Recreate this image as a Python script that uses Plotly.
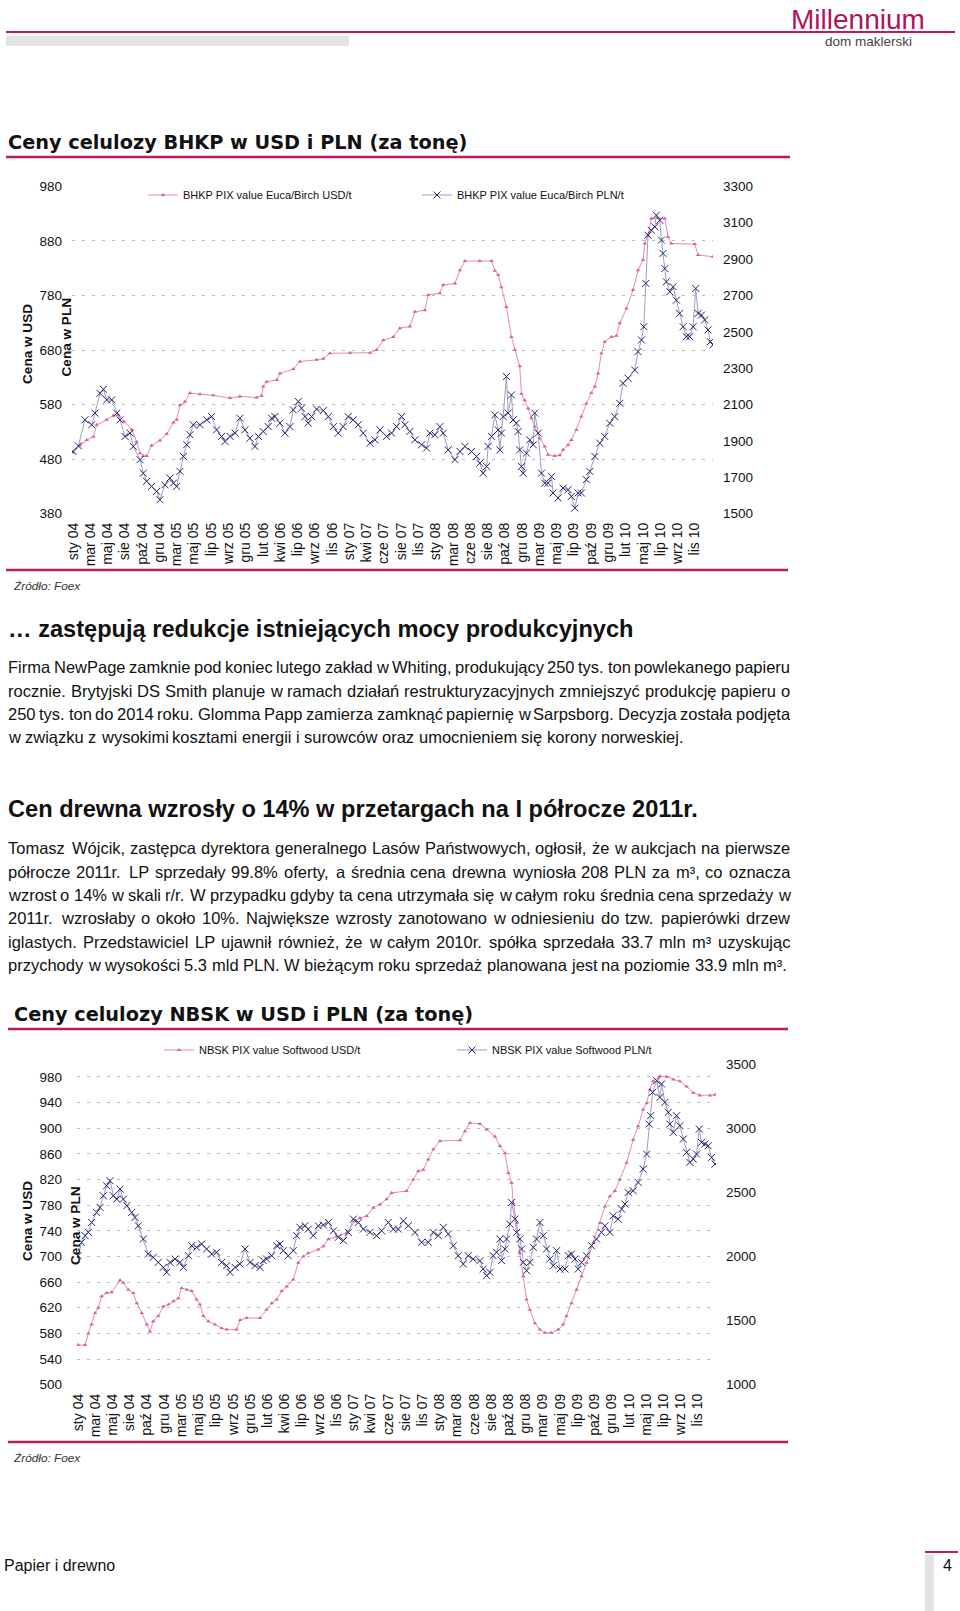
import plotly.graph_objects as go

W, H = 960, 1611

# ---------------- data ----------------
TICK_LABELS = ["sty 04", "mar 04", "maj 04", "sie 04", "paź 04", "gru 04", "mar 05", "maj 05",
               "lip 05", "wrz 05", "gru 05", "lut 06", "kwi 06", "lip 06", "wrz 06", "lis 06",
               "sty 07", "kwi 07", "cze 07", "sie 07", "lis 07", "sty 08", "mar 08", "cze 08",
               "sie 08", "paź 08", "gru 08", "mar 09", "maj 09", "lip 09", "paź 09", "gru 09",
               "lut 10", "maj 10", "lip 10", "wrz 10", "lis 10"]
TICK_WEEKS = list(range(0, 10 * len(TICK_LABELS), 10))

# BHKP USD/t (week index, value)
bhkp_usd_week = [0, 4.1, 7.9, 11.8, 13.7, 19.5, 23.3, 26.2, 29.5, 34.0,
                 36.8, 38.8, 40.7, 42.6, 45.5, 50.3, 54.2, 58.1, 60.0, 61.9,
                 64.8, 67.7, 73.5, 81.2, 90.9, 96.6, 106.3, 109.2, 110.1, 112.1,
                 117.9, 119.8, 127.5, 131.4, 141.0, 144.9, 148.7, 160.3, 171.9, 175.7,
                 179.6, 185.4, 189.2, 195.0, 197.9, 203.7, 205.6, 212.4, 214.3, 221.1,
                 224.0, 226.9, 235.5, 242.3, 244.2, 246.1, 248.0, 250.9, 253.8, 255.8,
                 258.6, 259.6, 261.5, 263.5, 265.4, 267.3, 270.2, 273.1, 275.0, 278.9,
                 281.8, 283.7, 286.6, 288.5, 291.4, 294.3, 297.2, 300.1, 302.1, 304.0,
                 305.9, 307.8, 311.7, 314.6, 316.5, 320.4, 324.2, 327.1, 330.0, 331.0,
                 332.9, 334.8, 342.6, 344.5, 346.4, 359.9, 361.9, 370.5]
bhkp_usd = [492, 505, 515, 521, 543, 552, 560, 561, 549, 534,
            512, 491, 486, 486, 505, 514, 526, 547, 552, 579,
            585, 601, 599, 597, 592, 595, 593, 596, 613, 622,
            625, 637, 645, 659, 662, 664, 674, 675, 675, 680,
            698, 704, 720, 723, 750, 753, 781, 784, 799, 802,
            826, 843, 843, 843, 825, 818, 795, 759, 704, 680,
            650, 600, 588, 573, 555, 540, 518, 503, 488, 486,
            487, 497, 506, 515, 534, 558, 582, 601, 613, 637,
            674, 695, 704, 706, 729, 756, 790, 826, 845, 875,
            890, 921, 921, 887, 875, 874, 854, 851]

# BHKP PLN/t
bhkp_pln_week = [0, 3.1, 6.9, 10.8, 12.7, 15.6, 17.6, 19.5, 22.4, 25.3,
                 27.2, 30.1, 33.0, 34.9, 38.8, 40.7, 42.6, 45.5, 48.4, 50.3,
                 53.2, 56.1, 58.1, 60.0, 61.9, 63.9, 65.8, 67.7, 69.6, 73.5,
                 77.4, 80.2, 83.1, 86.0, 88.0, 90.9, 93.8, 96.6, 99.5, 102.4,
                 105.3, 107.3, 110.1, 113.0, 115.0, 116.9, 119.8, 122.7, 125.6, 127.5,
                 130.4, 132.3, 134.3, 136.2, 138.1, 141.0, 144.9, 147.8, 150.7, 153.5,
                 156.4, 159.3, 162.2, 165.1, 168.0, 171.9, 174.8, 177.7, 181.5, 184.4,
                 187.3, 190.2, 192.1, 195.0, 197.9, 201.8, 204.7, 206.6, 209.5, 212.4,
                 214.3, 217.2, 221.1, 224.0, 226.9, 230.7, 233.6, 235.5, 237.4, 239.4,
                 240.3, 242.3, 244.2, 246.1, 247.1, 248.0, 249.0, 250.9, 251.9, 253.8,
                 254.8, 256.7, 257.7, 258.6, 259.6, 260.6, 262.5, 264.4, 266.4, 267.3,
                 269.3, 271.2, 273.1, 275.0, 277.0, 277.9, 280.8, 283.7, 286.6, 288.5,
                 290.5, 292.4, 294.3, 297.2, 299.2, 302.1, 304.9, 307.8, 310.7, 313.6,
                 316.5, 318.4, 321.3, 325.2, 327.1, 329.1, 330.4, 331.6, 332.9, 334.8,
                 336.8, 337.7, 339.7, 340.6, 341.6, 342.6, 343.5, 345.5, 347.4, 349.3,
                 351.2, 353.2, 355.1, 357.0, 359.0, 360.5, 361.9, 363.8, 365.7, 367.6,
                 369.0, 370.5]
bhkp_pln = [1842, 1873, 2016, 1989, 2053, 2162, 2184, 2126, 2126, 2053,
            2016, 1925, 1943, 1870, 1797, 1723, 1678, 1650, 1623, 1577,
            1659, 1696, 1668, 1650, 1733, 1815, 1879, 1934, 1989, 1989,
            2016, 2034, 1961, 1925, 1897, 1925, 1943, 2025, 1961, 1915,
            1870, 1925, 1952, 1979, 2025, 2034, 1998, 1943, 1979, 2071,
            2117, 2080, 2034, 1998, 2034, 2075, 2067, 2034, 1979, 1943,
            1979, 2034, 2016, 1989, 1943, 1888, 1906, 1961, 1925, 1943,
            1979, 2034, 1989, 1952, 1906, 1879, 1861, 1943, 1934, 1979,
            1943, 1851, 1797, 1842, 1870, 1842, 1815, 1778, 1723, 1760,
            1870, 1925, 2043, 1961, 1851, 1943, 2034, 2254, 2053, 2153,
            2016, 1998, 1952, 1851, 1760, 1723, 1833, 1906, 1879, 2053,
            1943, 1723, 1668, 1668, 1705, 1614, 1586, 1641, 1632, 1595,
            1531, 1614, 1614, 1687, 1733, 1815, 1888, 1925, 1998, 2034,
            2107, 2217, 2245, 2290, 2391, 2455, 2528, 2766, 3031, 3059,
            3077, 3141, 3113, 3004, 2931, 2848, 2775, 2720, 2748, 2674,
            2601, 2528, 2473, 2473, 2528, 2738, 2601, 2592, 2565, 2510,
            2446, 2428]

# NBSK USD/t
nbsk_usd_week = [0, 4.1, 6.0, 7.9, 9.9, 11.8, 13.7, 16.6, 19.5, 24.4,
                 26.3, 29.2, 32.1, 34.1, 37.0, 39.9, 41.8, 43.7, 46.6, 49.5,
                 52.5, 55.4, 58.3, 60.2, 63.1, 66.0, 68.9, 70.8, 72.8, 75.7,
                 79.5, 83.4, 86.3, 92.1, 94.1, 97.9, 105.7, 109.5, 112.5, 115.4,
                 118.3, 121.2, 125.0, 127.9, 130.8, 133.7, 139.5, 142.5, 145.4, 150.2,
                 156.0, 160.8, 163.7, 167.6, 171.5, 175.4, 179.2, 182.1, 190.8, 194.7,
                 197.6, 200.5, 203.4, 206.3, 210.2, 221.8, 224.7, 227.6, 233.4, 237.3,
                 242.1, 245.0, 247.9, 249.9, 251.8, 252.8, 254.7, 256.6, 258.6, 260.5,
                 262.4, 265.3, 268.2, 271.1, 275.0, 278.9, 281.8, 283.7, 286.6, 289.5,
                 292.4, 295.3, 299.2, 303.1, 306.0, 308.9, 311.8, 314.7, 318.6, 322.4,
                 325.3, 328.2, 330.2, 332.1, 334.0, 337.9, 341.8, 345.7, 349.5, 353.4,
                 357.3, 361.1, 367.0, 369.9]
nbsk_usd = [562, 562, 580, 594, 612, 620, 638, 643, 644, 663,
            659, 648, 643, 627, 612, 594, 583, 599, 607, 622,
            625, 630, 635, 651, 648, 646, 633, 625, 607, 599,
            594, 588, 586, 586, 601, 604, 604, 617, 627, 633,
            646, 653, 664, 690, 700, 705, 711, 716, 727, 731,
            737, 755, 760, 763, 776, 781, 789, 799, 802, 820,
            833, 835, 851, 867, 880, 881, 895, 908, 907, 898,
            887, 872, 861, 830, 815, 783, 752, 705, 669, 633,
            617, 596, 586, 581, 581, 586, 594, 607, 627, 648,
            669, 690, 721, 752, 778, 794, 802, 820, 846, 882,
            903, 929, 939, 960, 973, 981, 980, 976, 973, 965,
            955, 951, 951, 952]

# NBSK PLN/t
nbsk_pln_week = [0, 2.1, 4.1, 6.0, 7.9, 10.8, 12.8, 14.7, 16.6, 18.6,
                 20.5, 22.5, 24.4, 26.3, 28.3, 31.2, 33.1, 35.0, 37.9, 40.8,
                 43.7, 46.6, 49.5, 51.5, 53.4, 56.3, 59.2, 61.2, 64.1, 66.0,
                 68.9, 71.8, 74.7, 77.6, 80.5, 83.4, 86.3, 88.3, 91.2, 94.1,
                 97.0, 99.9, 102.8, 105.7, 107.6, 109.5, 112.5, 115.4, 117.3, 119.2,
                 122.1, 125.0, 127.0, 128.9, 131.8, 133.7, 136.6, 139.5, 142.5, 145.4,
                 148.3, 151.2, 154.1, 157.0, 159.9, 162.8, 165.7, 169.5, 173.4, 176.3,
                 180.2, 183.1, 186.0, 188.9, 191.8, 195.7, 199.5, 203.4, 206.3, 209.2,
                 212.1, 215.0, 217.9, 220.8, 223.7, 226.6, 229.5, 233.4, 235.3, 237.3,
                 239.2, 241.1, 243.1, 245.0, 246.0, 247.9, 248.9, 250.8, 251.8, 253.7,
                 254.7, 256.6, 257.6, 258.6, 260.5, 262.4, 264.4, 266.3, 268.2, 270.2,
                 272.1, 274.0, 276.0, 277.9, 279.9, 282.8, 284.7, 286.6, 288.6, 290.5,
                 292.4, 295.3, 298.2, 301.1, 304.0, 306.0, 308.9, 310.8, 313.7, 315.7,
                 317.6, 319.5, 322.4, 325.3, 328.2, 330.2, 331.7, 332.5, 333.7, 336.0,
                 337.9, 338.9, 340.8, 342.8, 343.7, 345.7, 347.6, 349.5, 351.5, 353.4,
                 355.3, 357.3, 359.2, 360.8, 362.1, 364.0, 366.0, 367.9, 369.9]
nbsk_pln = [2006, 2110, 2162, 2188, 2265, 2343, 2382, 2473, 2551, 2590,
            2473, 2447, 2525, 2447, 2395, 2343, 2304, 2239, 2136, 2019,
            1993, 1954, 1915, 1876, 1954, 1980, 1954, 1915, 2006, 2084,
            2071, 2097, 2058, 2019, 2032, 1954, 1928, 1876, 1915, 1941,
            2058, 1954, 1928, 1915, 1967, 1980, 2006, 2084, 2097, 2045,
            2006, 2045, 2162, 2227, 2239, 2213, 2162, 2239, 2245, 2265,
            2200, 2149, 2123, 2188, 2291, 2265, 2213, 2188, 2162, 2200,
            2265, 2213, 2213, 2278, 2239, 2188, 2110, 2110, 2188, 2162,
            2227, 2175, 2084, 2006, 1941, 2006, 1980, 1967, 1902, 1850,
            1876, 2006, 2032, 2136, 1967, 2058, 2136, 2252, 2421, 2291,
            2188, 2136, 2058, 1954, 1889, 1954, 2071, 2136, 2265, 2162,
            2058, 1980, 1928, 2045, 1902, 1902, 2006, 2019, 1980, 1902,
            1954, 2006, 2084, 2136, 2188, 2239, 2188, 2317, 2291, 2369,
            2408, 2499, 2512, 2577, 2681, 2798, 3032, 3097, 3279, 3370,
            3240, 3344, 3201, 3123, 3032, 2967, 3097, 3019, 2915, 2811,
            2733, 2759, 2798, 2993, 2889, 2876, 2863, 2772, 2720]

PARA1 = ["Firma NewPage zamknie pod koniec lutego zakład w Whiting, produkujący 250 tys. ton powlekanego papieru",
         "rocznie. Brytyjski DS Smith planuje w ramach działań restrukturyzacyjnych zmniejszyć produkcję papieru o",
         "250 tys. ton do 2014 roku. Glomma Papp zamierza zamknąć papiernię w Sarpsborg. Decyzja została podjęta",
         "w związku z wysokimi kosztami energii i surowców oraz umocnieniem się korony norweskiej."]
PARA2 = ["Tomasz Wójcik, zastępca dyrektora generalnego Lasów Państwowych, ogłosił, że w aukcjach na pierwsze",
         "półrocze 2011r. LP sprzedały 99.8% oferty, a średnia cena drewna wyniosła 208 PLN za m³, co oznacza",
         "wzrost o 14% w skali r/r. W przypadku gdyby ta cena utrzymała się w całym roku średnia cena sprzedaży w",
         "2011r. wzrosłaby o około 10%. Największe wzrosty zanotowano w odniesieniu do tzw. papierówki drzew",
         "iglastych. Przedstawiciel LP ujawnił również, że w całym 2010r. spółka sprzedała 33.7 mln m³ uzyskując",
         "przychody w wysokości 5.3 mld PLN. W bieżącym roku sprzedaż planowana jest na poziomie 33.9 mln m³."]

# ---------------- styles ----------------
SANS = "Liberation Sans, Arial, sans-serif"
TITLE_FONT = "DejaVu Sans, Verdana, sans-serif"
TXT = "#111111"
MAGENTA = "#bf1a5e"
PINK_LINE = "#e58ab8"
PINK_MARK = "#dc5fa0"
BLUE_LINE = "#9c9ebd"
BLUE_MARK = "#25256f"
GRID = "#bdbdbd"


def px(x):
    return x / W


def py(y):
    return 1 - y / H


fig = go.Figure()


def n(a, b):
    m = min(len(a), len(b))
    return a[:m], b[:m]


x, y = n(bhkp_usd_week, bhkp_usd)
fig.add_trace(go.Scatter(x=x, y=y, name="BHKP PIX value Euca/Birch USD/t", mode="lines+markers",
                         line=dict(color=PINK_LINE, width=1),
                         marker=dict(symbol="triangle-up", size=4, color=PINK_MARK),
                         xaxis="x", yaxis="y", legend="legend"))
x, y = n(bhkp_pln_week, bhkp_pln)
fig.add_trace(go.Scatter(x=x, y=y, name="BHKP PIX value Euca/Birch PLN/t", mode="lines+markers",
                         line=dict(color=BLUE_LINE, width=1),
                         marker=dict(symbol="x-thin", size=7, color=BLUE_MARK,
                                     line=dict(color=BLUE_MARK, width=1)),
                         xaxis="x", yaxis="y2", legend="legend2"))
x, y = n(nbsk_usd_week, nbsk_usd)
fig.add_trace(go.Scatter(x=x, y=y, name="NBSK PIX value Softwood USD/t", mode="lines+markers",
                         line=dict(color=PINK_LINE, width=1),
                         marker=dict(symbol="triangle-up", size=4, color=PINK_MARK),
                         xaxis="x2", yaxis="y3", legend="legend3"))
x, y = n(nbsk_pln_week, nbsk_pln)
fig.add_trace(go.Scatter(x=x, y=y, name="NBSK PIX value Softwood PLN/t", mode="lines+markers",
                         line=dict(color=BLUE_LINE, width=1),
                         marker=dict(symbol="x-thin", size=7, color=BLUE_MARK,
                                     line=dict(color=BLUE_MARK, width=1)),
                         xaxis="x2", yaxis="y4", legend="legend4"))

TICKFONT = dict(size=13.5, color=TXT, family=SANS)
XTICKFONT = dict(size=14, color=TXT, family=SANS)


def xaxis_cfg(x0, x1, anchor):
    return dict(domain=[px(x0), px(x1)], range=[-0.6, 370.5], anchor=anchor,
                tickmode="array", tickvals=TICK_WEEKS, ticktext=TICK_LABELS,
                tickangle=-90, tickfont=XTICKFONT, showgrid=False, zeroline=False,
                showline=False, ticks="", automargin=False, ticklabelstandoff=5)


def yleft_cfg(top, bottom, rng, tick0, dtick):
    return dict(domain=[py(bottom), py(top)], range=rng, tick0=tick0, dtick=dtick,
                showgrid=True, gridcolor=GRID, griddash="3px,7px", gridwidth=1,
                zeroline=False, showline=False, ticks="", tickfont=TICKFONT,
                automargin=False, ticklabelstandoff=9)


def yright_cfg(over, anchor, rng, tick0, dtick):
    return dict(overlaying=over, side="right", anchor=anchor, range=rng, tick0=tick0,
                dtick=dtick, showgrid=False, zeroline=False, showline=False, ticks="",
                tickfont=TICKFONT, automargin=False, ticklabelstandoff=9)


def legend_cfg(xl, yc):
    return dict(x=px(xl), y=py(yc), xanchor="left", yanchor="middle", orientation="h",
                font=dict(size=11, color=TXT, family=SANS), bgcolor="rgba(0,0,0,0)",
                borderwidth=0, itemwidth=30)


annotations = []


def text(x, y, s, size, color=TXT, family=SANS, xanchor="left", angle=0):
    annotations.append(dict(x=px(x), y=py(y), xref="paper", yref="paper", text=s,
                            showarrow=False, xanchor=xanchor, yanchor="middle",
                            font=dict(size=size, family=family, color=color),
                            textangle=angle, borderpad=0))


# Arial / Liberation Sans regular advance widths (1/1000 em)
AW = {}
for chars, w in [(" !,./:;Iftj", 278), ("ilł", 222), ("r()-³", 333),
                 ("cksvxyzJśźżć", 500), ("abdeghnopqu0123456789Ląęńó", 556),
                 ("FTZŻŹ", 611), ("ABEKPSVXYŚ", 667), ("CDHNRUwĆ", 722),
                 ("GOQ", 778), ("Mm", 833), ("%", 889), ("W", 944)]:
    for ch in chars:
        AW[ch] = w
AW["j"] = 222


def tw(s, size):
    return sum(AW.get(ch, 556) for ch in s) * size / 1000.0


def para_line(line, yc, size, justify, x0=7, x1=789):
    words = line.split(" ")
    widths = [tw(w_, size) for w_ in words]
    space = tw(" ", size)
    gap = space
    if justify and len(words) > 1:
        g = (x1 - x0 - sum(widths)) / (len(words) - 1)
        if g > 0:
            gap = g
    xx = x0
    for w_, wd in zip(words, widths):
        text(xx, yc, w_, size)
        xx += wd + gap


# header
text(790, 19, "Millennium", 28, color="#b0135d")
text(824, 42, "dom maklerski", 13.5, color="#444444")

# chart titles
text(7, 143, "<b>Ceny celulozy BHKP w USD i PLN (za tonę)</b>", 19.3, family=TITLE_FONT)
text(13, 1015, "<b>Ceny celulozy NBSK w USD i PLN (za tonę)</b>", 19.3, family=TITLE_FONT)

# axis titles
text(27, 344, "<b>Cena w USD</b>", 13.6, xanchor="center", angle=-90)
text(65.5, 337, "<b>Cena w PLN</b>", 13.6, xanchor="center", angle=-90)
text(27, 1221, "<b>Cena w USD</b>", 13.6, xanchor="center", angle=-90)
text(75, 1226, "<b>Cena w PLN</b>", 13.6, xanchor="center", angle=-90)

# sources
text(12, 586, "<i>Źródło: Foex</i>", 11.8, color="#333333")
text(12, 1458, "<i>Źródło: Foex</i>", 11.8, color="#333333")

# headings and paragraphs
text(7, 629, "<b>… zastępują redukcje istniejących mocy produkcyjnych</b>", 23.6)
for i, (line, yc) in enumerate(zip(PARA1, [667, 691, 714, 737])):
    para_line(line, yc, 16.5, justify=(i < len(PARA1) - 1))
text(7, 809, "<b>Cen drewna wzrosły o 14% w przetargach na I półrocze 2011r.</b>", 23.6)
for i, (line, yc) in enumerate(zip(PARA2, [848, 872, 895, 918, 942, 965])):
    para_line(line, yc, 16.5, justify=(i < len(PARA2) - 1))

# footer
text(3, 1565, "Papier i drewno", 16)
text(942, 1565, "4", 16)

shapes = []


def hline(x0, x1, y, color=MAGENTA, width=2.5):
    shapes.append(dict(type="line", xref="paper", yref="paper", x0=px(x0), x1=px(x1),
                       y0=py(y), y1=py(y), line=dict(color=color, width=width)))


def rect(x0, y0, x1, y1, color):
    shapes.append(dict(type="rect", xref="paper", yref="paper", x0=px(x0), x1=px(x1),
                       y0=py(y1), y1=py(y0), line=dict(width=0), fillcolor=color))


hline(6, 955, 32, width=2)
rect(6, 36, 349, 46, "#e3e3e3")
hline(6, 790, 157)
hline(6, 788, 570)
hline(8, 788, 1029)
hline(8, 788, 1442)
hline(925, 958, 1552, width=2)
rect(925, 1555, 934, 1611, "#e3e3e3")

fig.update_layout(
    width=W, height=H, autosize=False,
    margin=dict(l=0, r=0, t=0, b=0),
    paper_bgcolor="white", plot_bgcolor="white",
    font=dict(family=SANS, color=TXT),
    xaxis=xaxis_cfg(72, 713, "y"),
    yaxis=yleft_cfg(186, 514, [379.5, 980.5], 380, 100),
    yaxis2=yright_cfg("y", "x", [1498.5, 3301.5], 1500, 200),
    xaxis2=xaxis_cfg(77, 716, "y3"),
    yaxis3=yleft_cfg(1064, 1385, [499.6, 1000], 500, 40),
    yaxis4=yright_cfg("y3", "x2", [998, 3500], 1000, 500),
    legend=legend_cfg(143, 195),
    legend2=legend_cfg(417, 195),
    legend3=legend_cfg(159, 1050),
    legend4=legend_cfg(452, 1050),
    showlegend=True,
    annotations=annotations,
    shapes=shapes,
)

fig.write_html(
    "out.html",
    config={"displayModeBar": False, "staticPlot": False},
    post_script="document.body.style.margin='0';document.body.style.padding='0';"
                "document.body.style.overflow='hidden';"
                "document.documentElement.style.overflow='hidden';",
)
